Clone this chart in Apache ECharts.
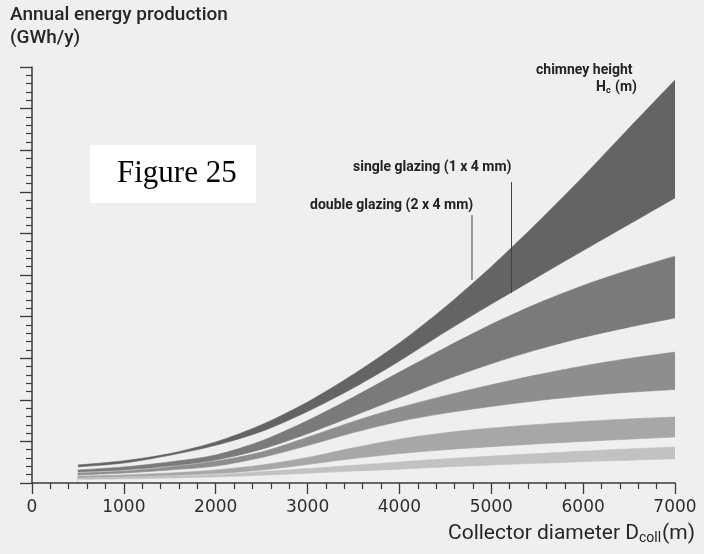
<!DOCTYPE html>
<html>
<head>
<meta charset="utf-8">
<script src="https://cdn.jsdelivr.net/npm/echarts@6/dist/echarts.min.js"></script>
<style>
html,body{margin:0;padding:0;background:#efefef;}
#c{width:704px;height:554px;}
</style>
</head>
<body>
<div id="c"></div>
<script>
// Collector diameter (m)
const diameters = [500, 1000, 1500, 2000, 2500, 3000, 3500, 4000, 4500, 5000, 5500, 6000, 6500, 7000];
// Annual energy production (GWh/y): upper edge = double glazing, lower edge = single glazing
const h1500Upper = [65, 80, 106, 148, 210, 292, 392, 505, 635, 780, 938, 1105, 1280, 1453];
const h1500Lower = [58, 72, 100, 136, 186, 258, 343, 440, 545, 645, 742, 838, 933, 1028];
const h1000Upper = [47, 58, 76, 101, 152, 225, 310, 400, 488, 572, 647, 712, 768, 818];
const h1000Lower = [40, 47, 61, 83, 122, 178, 242, 307, 372, 430, 481, 525, 562, 595];
const h800Upper  = [36, 43, 58, 79, 112, 165, 222, 272, 315, 354, 390, 422, 449, 472];
const h800Lower  = [29, 36, 47, 61, 92, 135, 182, 222, 252, 276, 297, 314, 327, 337];
const h600Upper  = [25, 29, 36, 47, 65, 92, 127, 158, 181, 198, 211, 222, 231, 238];
const h600Lower  = [18, 22, 27, 34, 47, 67, 88, 106, 120, 131, 141, 150, 158, 166];
const h445Upper  = [18, 21, 25, 31, 41, 52, 64, 76, 87, 97, 106, 115, 123, 130];
const h445Lower  = [13, 15, 18, 22, 28, 35, 43, 50, 58, 65, 71, 77, 82, 87];
const chimneyHeights = ['445', '600', '800', '1000', '1500'];
const xTicks = [0, 1000, 2000, 3000, 4000, 5000, 6000, 7000];
// pointer lines for the glazing labels [x, yTop, yBottom]
const doublePointer = [4790, 966, 732];
const singlePointer = [5220, 1085, 685];

const BG = '#efefef';
// drawn from the highest band down: upper area in band colour, then lower area in background colour
const bands = [
  {name: '1500', up: h1500Upper, lo: h1500Lower, color: '#646464'},
  {name: '1000', up: h1000Upper, lo: h1000Lower, color: '#7a7a7a'},
  {name: '800', up: h800Upper, lo: h800Lower, color: '#8e8e8e'},
  {name: '600', up: h600Upper, lo: h600Lower, color: '#a7a7a7'},
  {name: '445', up: h445Upper, lo: h445Lower, color: '#c2c2c2'}
];

const series = [];
bands.forEach((b) => {
  series.push({
    type: 'line', smooth: 0.3, symbol: 'none', silent: true,
    lineStyle: {width: 0.6, color: b.color},
    areaStyle: {color: b.color, opacity: 1, origin: 'start'},
    data: diameters.map((d, j) => [d, b.up[j]])
  });
  series.push({
    type: 'line', smooth: 0.3, symbol: 'none', silent: true,
    lineStyle: {width: 0.6, color: b.color},
    areaStyle: {color: BG, opacity: 1, origin: 'start'},
    data: diameters.map((d, j) => [d, b.lo[j]])
  });
});
[doublePointer, singlePointer].forEach(p => {
  series.push({
    type: 'line', symbol: 'none', silent: true,
    lineStyle: {color: '#444', width: 1},
    data: [[p[0], p[1]], [p[0], p[2]]]
  });
});

const chart = echarts.init(document.getElementById('c'));
const font = 'Roboto, "Liberation Sans", sans-serif';
const numFont = '"DejaVu Sans", sans-serif';
chart.setOption({
  backgroundColor: BG,
  animation: false,
  grid: {left: 32, right: 29, top: 67, bottom: 71},
  xAxis: {
    type: 'value', min: 0, max: 7000, interval: 1000, z: 5,
    axisLine: {show: true, lineStyle: {color: '#3a3a3a', width: 1.5}},
    axisTick: {show: true, length: 11, lineStyle: {color: '#3a3a3a', width: 1.3}},
    minorTick: {show: true, splitNumber: 5, length: 6, lineStyle: {color: '#3a3a3a', width: 1.2}},
    splitLine: {show: false},
    axisLabel: {color: '#2e2e2e', fontSize: 17, margin: 16, fontFamily: numFont,
      formatter: v => xTicks.includes(v) ? String(v) : ''}
  },
  yAxis: {
    type: 'value', min: 0, max: 1500, interval: 150, z: 5,
    axisLine: {show: true, lineStyle: {color: '#3a3a3a', width: 1.5}},
    axisTick: {show: true, length: 12, lineStyle: {color: '#3a3a3a', width: 1.3}},
    minorTick: {show: true, splitNumber: 5, length: 6, lineStyle: {color: '#3a3a3a', width: 1.2}},
    splitLine: {show: false},
    axisLabel: {show: false}
  },
  series: series,
  graphic: [
    {type: 'text', left: 10, top: 6, style: {text: 'Annual energy production', font: '500 19px ' + font, fill: '#262626'}},
    {type: 'text', left: 10, top: 29, style: {text: '(GWh/y)', font: '500 19px ' + font, fill: '#262626'}},
    {type: 'rect', shape: {x: 90, y: 145, width: 166, height: 58}, style: {fill: '#ffffff'}},
    {type: 'text', left: 117, top: 158, style: {text: 'Figure 25', font: '31px "Liberation Serif", serif', fill: '#000'}},
    {type: 'text', left: 536, top: 63, style: {text: 'chimney height', font: 'bold 14px ' + font, fill: '#222'}},
    {type: 'text', left: 596, top: 80, style: {
      rich: {a: {font: 'bold 14px ' + font, fill: '#222'}, s: {font: 'bold 9px ' + font, fill: '#222', padding: [8, 1, 0, 0]}},
      text: '{a|H}{s|c}{a| (m)}'}},
    {type: 'text', left: 353, top: 160, style: {text: 'single glazing (1 x 4 mm)', font: 'bold 14px ' + font, fill: '#222'}},
    {type: 'text', left: 310, top: 198, style: {text: 'double glazing (2 x 4 mm)', font: 'bold 14px ' + font, fill: '#222'}},
    {type: 'text', left: 606, top: 174, style: {text: chimneyHeights[4], font: '14px ' + font, fill: '#1e1e1e'}},
    {type: 'text', left: 610, top: 289, style: {text: chimneyHeights[3], font: '14px ' + font, fill: '#1e1e1e'}},
    {type: 'text', left: 618, top: 362, style: {text: chimneyHeights[2], font: '14px ' + font, fill: '#1e1e1e'}},
    {type: 'text', left: 620, top: 420, style: {text: chimneyHeights[1], font: '14px ' + font, fill: '#1e1e1e'}},
    {type: 'text', left: 620, top: 444, style: {text: chimneyHeights[0], font: '14px ' + font, fill: '#1e1e1e'}},
    {type: 'text', left: 448, top: 523, style: {
      rich: {a: {font: '21px ' + font, fill: '#262626'}, s: {font: '14px ' + font, fill: '#262626', padding: [10, 1, 0, 0]}},
      text: '{a|Collector diameter D}{s|coll}{a|(m)}'}}
  ]
});
</script>
</body>
</html>
